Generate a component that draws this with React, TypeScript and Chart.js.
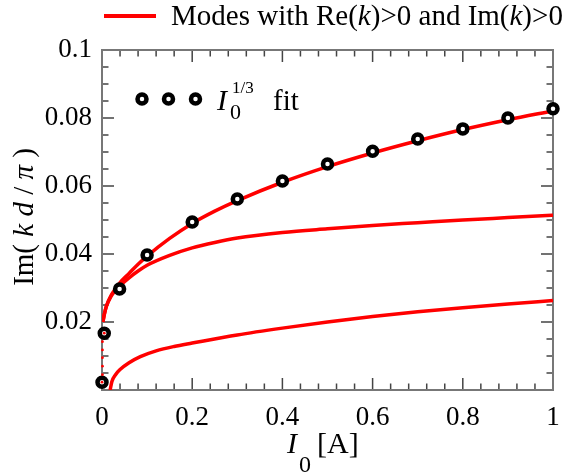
import React, { useEffect, useRef } from 'react';
import { Chart, registerables } from 'chart.js';

Chart.register(...registerables);

// ---- data ----
const fitPointsX = [0, 0.005, 0.039, 0.1, 0.2, 0.3, 0.4, 0.5, 0.6, 0.7, 0.8, 0.9, 1.0];
const fitPointsY = [0.0023, 0.0167, 0.0297, 0.0397, 0.0494, 0.0562, 0.0615, 0.0665, 0.0702, 0.0738, 0.0768, 0.08, 0.0827];

const modeAX = [0.002, 0.005, 0.01, 0.02, 0.03, 0.04, 0.06, 0.08, 0.1, 0.15, 0.2, 0.25, 0.3, 0.4, 0.5, 0.6, 0.7, 0.8, 0.9, 1.0];
const modeAY = [0.02, 0.0222, 0.0248, 0.0278, 0.0298, 0.0316, 0.0343, 0.037, 0.0394, 0.0446, 0.049, 0.0526, 0.0557, 0.0611, 0.0657, 0.0697, 0.0733, 0.0766, 0.0795, 0.0821];

const modeBX = [0.002, 0.005, 0.01, 0.02, 0.03, 0.04, 0.06, 0.08, 0.1, 0.15, 0.2, 0.25, 0.3, 0.4, 0.5, 0.6, 0.7, 0.8, 0.9, 1.0];
const modeBY = [0.02, 0.0222, 0.0247, 0.0275, 0.0293, 0.0307, 0.033, 0.035, 0.0367, 0.0396, 0.0418, 0.0434, 0.0447, 0.0463, 0.0474, 0.0484, 0.0492, 0.05, 0.0507, 0.0514];

const modeCX = [0.018, 0.022, 0.03, 0.04, 0.06, 0.085, 0.12, 0.16, 0.2, 0.3, 0.4, 0.5, 0.6, 0.7, 0.8, 0.9, 1.0];
const modeCY = [0.0, 0.0025, 0.0045, 0.006, 0.008, 0.0098, 0.0115, 0.0128, 0.0138, 0.0162, 0.0182, 0.02, 0.0216, 0.023, 0.0242, 0.0253, 0.0263];

const dotsX = [0.0, 0.001, 0.001, 0.001, 0.001, 0.001, 0.005];
const dotsY = [0.0023, 0.0045, 0.007, 0.0095, 0.0118, 0.0142, 0.0167];

const xTickValues = [0, 0.2, 0.4, 0.6, 0.8, 1];
const yTickValues = [0.02, 0.04, 0.06, 0.08, 0.1];

const legendMain = 'Modes with Re(k)>0 and Im(k)>0';
const legendFit = 'fit';

const SERIF = '"Liberation Serif", "Times New Roman", serif';

Chart.defaults.font.family = SERIF;
Chart.defaults.font.size = 27;
Chart.defaults.color = '#000';

type Run = { t: string; font: string; dy?: number };

function drawRuns(ctx: CanvasRenderingContext2D, runs: Run[], x: number, y: number, center = false) {
  let total = 0;
  for (const r of runs) {
    ctx.font = r.font;
    total += ctx.measureText(r.t).width;
  }
  let cx = center ? x - total / 2 : x;
  for (const r of runs) {
    ctx.font = r.font;
    ctx.fillText(r.t, cx, y + (r.dy || 0));
    cx += ctx.measureText(r.t).width;
  }
}

function pts(xs: number[], ys: number[]) {
  return xs.map((x, i) => ({ x, y: ys[i] }));
}

const decor = {
  id: 'decor',
  beforeDatasetsDraw(chart: any) {
    const ctx = chart.ctx as CanvasRenderingContext2D;
    const { left, right, top, bottom } = chart.chartArea;
    const xs = chart.scales.x;
    const ys = chart.scales.y;
    ctx.save();
    ctx.strokeStyle = '#444';
    ctx.lineWidth = 1.5;
    for (let i = 1; i < 25; i++) {
      const px = xs.getPixelForValue(i * 0.04);
      const len = i % 5 === 0 ? 12 : 6.5;
      ctx.beginPath();
      ctx.moveTo(px, bottom);
      ctx.lineTo(px, bottom - len);
      ctx.moveTo(px, top);
      ctx.lineTo(px, top + len);
      ctx.stroke();
    }
    for (let i = 1; i < 20; i++) {
      const py = ys.getPixelForValue(i * 0.005);
      const len = i % 4 === 0 ? 12 : 6.5;
      ctx.beginPath();
      ctx.moveTo(left, py);
      ctx.lineTo(left + len, py);
      ctx.moveTo(right, py);
      ctx.lineTo(right - len, py);
      ctx.stroke();
    }
    ctx.strokeStyle = '#777';
    ctx.lineWidth = 2;
    ctx.strokeRect(left, top, right - left, bottom - top);
    ctx.restore();
  },
  afterDraw(chart: any) {
    const ctx = chart.ctx as CanvasRenderingContext2D;
    ctx.save();
    ctx.fillStyle = '#000';
    ctx.textBaseline = 'alphabetic';
    ctx.textAlign = 'left';

    // top legend
    ctx.strokeStyle = '#ff0000';
    ctx.lineWidth = 4;
    ctx.beginPath();
    ctx.moveTo(104, 16);
    ctx.lineTo(156, 16);
    ctx.stroke();
    const nf = `29px ${SERIF}`;
    const itf = `italic 29px ${SERIF}`;
    const parts = legendMain.split('k');
    drawRuns(ctx, [
      { t: parts[0], font: nf },
      { t: 'k', font: itf },
      { t: parts[1], font: nf },
      { t: 'k', font: itf },
      { t: parts[2], font: nf },
    ], 171, 25);

    // inner legend markers
    for (const mx of [142, 168.5, 195.5]) {
      ctx.beginPath();
      ctx.arc(mx, 99, 4.5, 0, Math.PI * 2);
      ctx.fillStyle = '#fff';
      ctx.fill();
      ctx.lineWidth = 4.5;
      ctx.strokeStyle = '#000';
      ctx.stroke();
    }
    ctx.fillStyle = '#000';
    ctx.font = `italic 30px ${SERIF}`;
    ctx.fillText('I', 217, 110);
    ctx.font = `17px ${SERIF}`;
    ctx.fillText('1/3', 232, 93);
    ctx.font = `22px ${SERIF}`;
    ctx.fillText('0', 230, 119);
    ctx.font = `29px ${SERIF}`;
    ctx.fillText(legendFit, 273, 110);

    // x title
    ctx.font = `italic 30px ${SERIF}`;
    ctx.fillText('I', 287, 453);
    ctx.font = `24px ${SERIF}`;
    ctx.fillText('0', 299, 472);
    ctx.font = `30px ${SERIF}`;
    ctx.fillText('[A]', 317, 453);

    // y title
    ctx.translate(33, 217);
    ctx.rotate(-Math.PI / 2);
    const yn = `29px ${SERIF}`;
    const yi = `italic 29px ${SERIF}`;
    drawRuns(ctx, [
      { t: 'Im( ', font: yn },
      { t: 'k', font: yi },
      { t: ' ', font: yn },
      { t: 'd', font: yi },
      { t: ' / ', font: yn },
      { t: 'π', font: yi },
      { t: ' )', font: yn },
    ], 0, 0, true);
    ctx.restore();
  },
};

function fmt(v: number) {
  return String(parseFloat(Number(v).toFixed(3)));
}

export default function App() {
  const ref = useRef<HTMLCanvasElement | null>(null);
  useEffect(() => {
    document.body.style.margin = '0';
    const canvas = ref.current!;
    const red = '#ff0000';
    const lineDs = (xs: number[], ys: number[]) => ({
      type: 'line' as const,
      data: pts(xs, ys),
      borderColor: red,
      borderWidth: 3.5,
      pointRadius: 0,
      fill: false,
      cubicInterpolationMode: 'monotone' as const,
    });
    const tickFont = { family: SERIF, size: 27 };
    const chart = new Chart(canvas, {
      type: 'line',
      data: {
        datasets: [
          {
            type: 'scatter',
            data: pts(dotsX, dotsY),
            showLine: false,
            pointRadius: 1.4,
            pointBorderWidth: 0,
            borderColor: red,
            backgroundColor: red,
            pointBackgroundColor: red,
            clip: false,
          } as any,
          {
            type: 'scatter',
            data: pts(fitPointsX, fitPointsY),
            showLine: false,
            pointRadius: 4.5,
            pointBorderWidth: 4.5,
            borderWidth: 4.5,
            borderColor: '#000',
            pointBorderColor: '#000',
            backgroundColor: '#fff',
            pointBackgroundColor: '#fff',
            clip: false,
          } as any,
          lineDs(modeAX, modeAY),
          lineDs(modeBX, modeBY),
          lineDs(modeCX, modeCY),
        ],
      },
      options: {
        responsive: false,
        animation: false,
        devicePixelRatio: 1,
        layout: { padding: { top: 50, right: 12, left: 0, bottom: 0 } },
        plugins: {
          legend: { display: false },
          tooltip: { enabled: false },
          title: { display: false },
        },
        scales: {
          x: {
            type: 'linear',
            min: 0,
            max: 1,
            grid: { display: false, drawTicks: true, tickLength: 12 },
            border: { display: false },
            afterBuildTicks: (s: any) => {
              s.ticks = xTickValues.map((v) => ({ value: v }));
            },
            afterFit: (s: any) => {
              s.height = 86;
            },
            ticks: {
              padding: 0,
              color: '#000',
              maxRotation: 0,
              autoSkip: false,
              font: tickFont,
              callback: (v: any) => fmt(v),
            },
          },
          y: {
            type: 'linear',
            min: 0,
            max: 0.1,
            grid: { display: false, drawTicks: true, tickLength: 10 },
            border: { display: false },
            afterBuildTicks: (s: any) => {
              s.ticks = yTickValues.map((v) => ({ value: v }));
            },
            afterFit: (s: any) => {
              s.width = 102;
            },
            ticks: {
              padding: 0,
              color: '#000',
              autoSkip: false,
              font: tickFont,
              callback: (v: any) => fmt(v),
            },
          },
        },
      },
      plugins: [decor],
    } as any);
    return () => chart.destroy();
  }, []);
  return (
    <div style={{ width: 565, height: 476, background: '#fff' }}>
      <canvas ref={ref} width={565} height={476} style={{ display: 'block' }} />
    </div>
  );
}
